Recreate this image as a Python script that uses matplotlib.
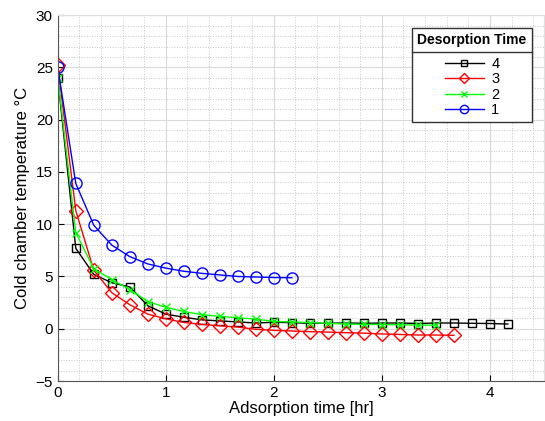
import numpy as np
import matplotlib.pyplot as plt
from matplotlib.ticker import MultipleLocator
from matplotlib.lines import Line2D

plt.rcParams['font.family'] = ['Liberation Sans', 'DejaVu Sans']

step = 1 / 6  # samples every 10 minutes

# cold chamber temperature (°C) per desorption time
temp_4 = [24.0, 7.7, 5.2, 4.4, 4.0, 2.2, 1.4, 1.1, 0.85, 0.75, 0.65, 0.55, 0.62,
          0.58, 0.52, 0.52, 0.55, 0.52, 0.55, 0.55, 0.50, 0.55, 0.55, 0.52, 0.50, 0.45]
temp_3 = [25.2, 11.3, 5.6, 3.45, 2.3, 1.4, 0.95, 0.6, 0.42, 0.28, 0.16, -0.05, -0.15,
          -0.22, -0.28, -0.32, -0.38, -0.42, -0.5, -0.55, -0.6, -0.6, -0.63]
temp_2 = [24.0, 9.2, 5.75, 4.7, 3.75, 2.6, 2.05, 1.65, 1.35, 1.18, 1.05, 0.92, 0.7,
          0.65, 0.58, 0.52, 0.45, 0.42, 0.4, 0.38, 0.35, 0.33]
temp_1 = [25.0, 13.9, 9.9, 8.0, 6.9, 6.2, 5.8, 5.5, 5.3, 5.15, 5.0, 4.95, 4.9, 4.88]

series = [
    ("4", temp_4, "black", "s", 6),
    ("3", temp_3, "red", "D", 7),
    ("2", temp_2, "lime", "x", 6),
    ("1", temp_1, "blue", "o", 8),
]

fig = plt.figure(figsize=(5.45, 4.21), dpi=100)
ax = fig.add_axes([0.106, 0.095, 0.892, 0.869])

for label, vals, color, marker, ms in series:
    t = np.arange(len(vals)) * step
    ax.plot(t, vals, color=color, marker=marker, markersize=ms,
            markerfacecolor='none', markeredgecolor=color, linewidth=1,
            markeredgewidth=1, label=label)

ax.set_xlim(0, 4.5)
ax.set_ylim(-5, 30)
ax.xaxis.set_major_locator(MultipleLocator(1))
ax.xaxis.set_minor_locator(MultipleLocator(0.2))
ax.yaxis.set_major_locator(MultipleLocator(5))
ax.yaxis.set_minor_locator(MultipleLocator(1))
ax.grid(which='major', color='#d9d9d9', linewidth=0.8)
ax.grid(which='minor', color='#c8c8c8', linestyle=':', linewidth=0.7)
ax.set_axisbelow(True)

ax.tick_params(which='both', direction='in', length=4, labelsize=11, top=False, right=False)
ax.tick_params(which='minor', length=0)
for s in ['top', 'right']:
    ax.spines[s].set_color('#e0e0e0')
for s in ['left', 'bottom']:
    ax.spines[s].set_color('#555555')

ax.set_xlabel("Adsorption time [hr]", fontsize=12, labelpad=1)
ax.set_ylabel("Cold chamber temperature °C", fontsize=12, labelpad=4)

leg = ax.legend(title="Desorption Time", loc='upper right', bbox_to_anchor=(0.975, 0.965),
                borderaxespad=0, fontsize=10.5,
                title_fontproperties={'weight': 'bold', 'size': 10},
                fancybox=False, edgecolor='#333333', framealpha=1, handlelength=2.7,
                handletextpad=0.5, borderpad=0.35, labelspacing=0.1,
                markerscale=0.75, alignment='center')
leg.get_frame().set_linewidth(1)
leg._legend_box.sep = 7

fig.canvas.draw()
bb = leg.get_window_extent().transformed(fig.transFigure.inverted())
tb = leg.get_title().get_window_extent().transformed(fig.transFigure.inverted())
hb = leg._legend_handle_box.get_window_extent(fig.canvas.get_renderer()).transformed(
    fig.transFigure.inverted())
ysep = (tb.y0 + hb.y1) / 2
fig.add_artist(Line2D([bb.x0, bb.x1], [ysep, ysep], color='#333333', linewidth=1,
                      transform=fig.transFigure))

fig.savefig("out.png", dpi=100)
